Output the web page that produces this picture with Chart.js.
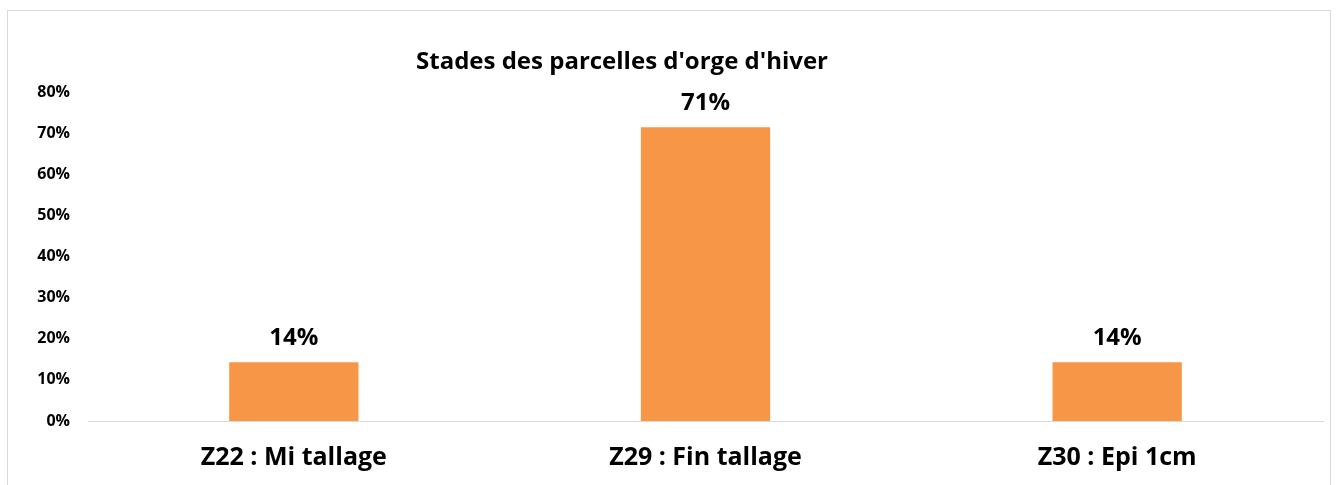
<!DOCTYPE html>
<html>
<head>
<meta charset="utf-8">
<script src="https://cdn.jsdelivr.net/npm/chart.js@4"></script>
<style>
  body { margin: 0; background: #fff; }
  #box {
    position: absolute; left: 7px; top: 10px;
    width: 1322px; height: 490px;
    border: 1px solid #d9d9d9;
  }
</style>
</head>
<body>
<div id="box"><canvas id="myChart" width="1322" height="490"></canvas></div>
<script>
// Data
const categories = ['Z22 : Mi tallage', 'Z29 : Fin tallage', 'Z30 : Epi 1cm'];
const shares = [14.29, 71.43, 14.29];
const labelsTop = ['14%', '71%', '14%'];
const yMax = 80;
const yStep = 10;
const chartTitle = "Stades des parcelles d'orge d'hiver";

const FONT = '"Open Sans", Lato, sans-serif';

// title sits left of centre in the original, so draw it by hand
const titleText = {
  id: 'titleText',
  afterDraw(chart) {
    const c = chart.ctx;
    c.save();
    c.font = 'bold 24px ' + FONT;
    c.fillStyle = '#000';
    c.textAlign = 'center';
    c.textBaseline = 'middle';
    c.fillText(chartTitle, 614, 51);
    c.restore();
  }
};

// draws the % above each bar
const barLabels = {
  id: 'barLabels',
  afterDatasetsDraw(chart) {
    const c = chart.ctx;
    const meta = chart.getDatasetMeta(0);
    c.save();
    c.font = 'bold 24px ' + FONT;
    c.fillStyle = '#000';
    c.textAlign = 'center';
    c.textBaseline = 'middle';
    meta.data.forEach((bar, i) => {
      c.fillText(labelsTop[i], bar.x, bar.y - 24);
    });
    c.restore();
  }
};

const ctx = document.getElementById('myChart');

new Chart(ctx, {
  type: 'bar',
  data: {
    labels: categories,
    datasets: [{
      data: shares,
      backgroundColor: '#f79646',
      barPercentage: 0.314,
      categoryPercentage: 1
    }]
  },
  options: {
    responsive: false,
    animation: false,
    layout: { padding: { top: 81, right: 7, bottom: 6, left: 0 } },
    plugins: {
      legend: { display: false },
      tooltip: { enabled: false },
      title: { display: false }
    },
    scales: {
      x: {
        grid: { display: false, drawTicks: false },
        border: { display: true, color: '#d9d9d9', width: 1 },
        ticks: {
          color: '#000',
          padding: 22,
          font: { family: FONT, size: 25, weight: 'bold' }
        }
      },
      y: {
        min: 0,
        max: yMax,
        afterFit(scale) { scale.width = 80; },
        grid: { display: false, drawTicks: false },
        border: { display: false },
        ticks: {
          stepSize: yStep,
          color: '#000',
          padding: 18,
          font: { family: FONT, size: 16, weight: 'bold' },
          callback: v => v + '%'
        }
      }
    }
  },
  plugins: [barLabels, titleText]
});
</script>
</body>
</html>
